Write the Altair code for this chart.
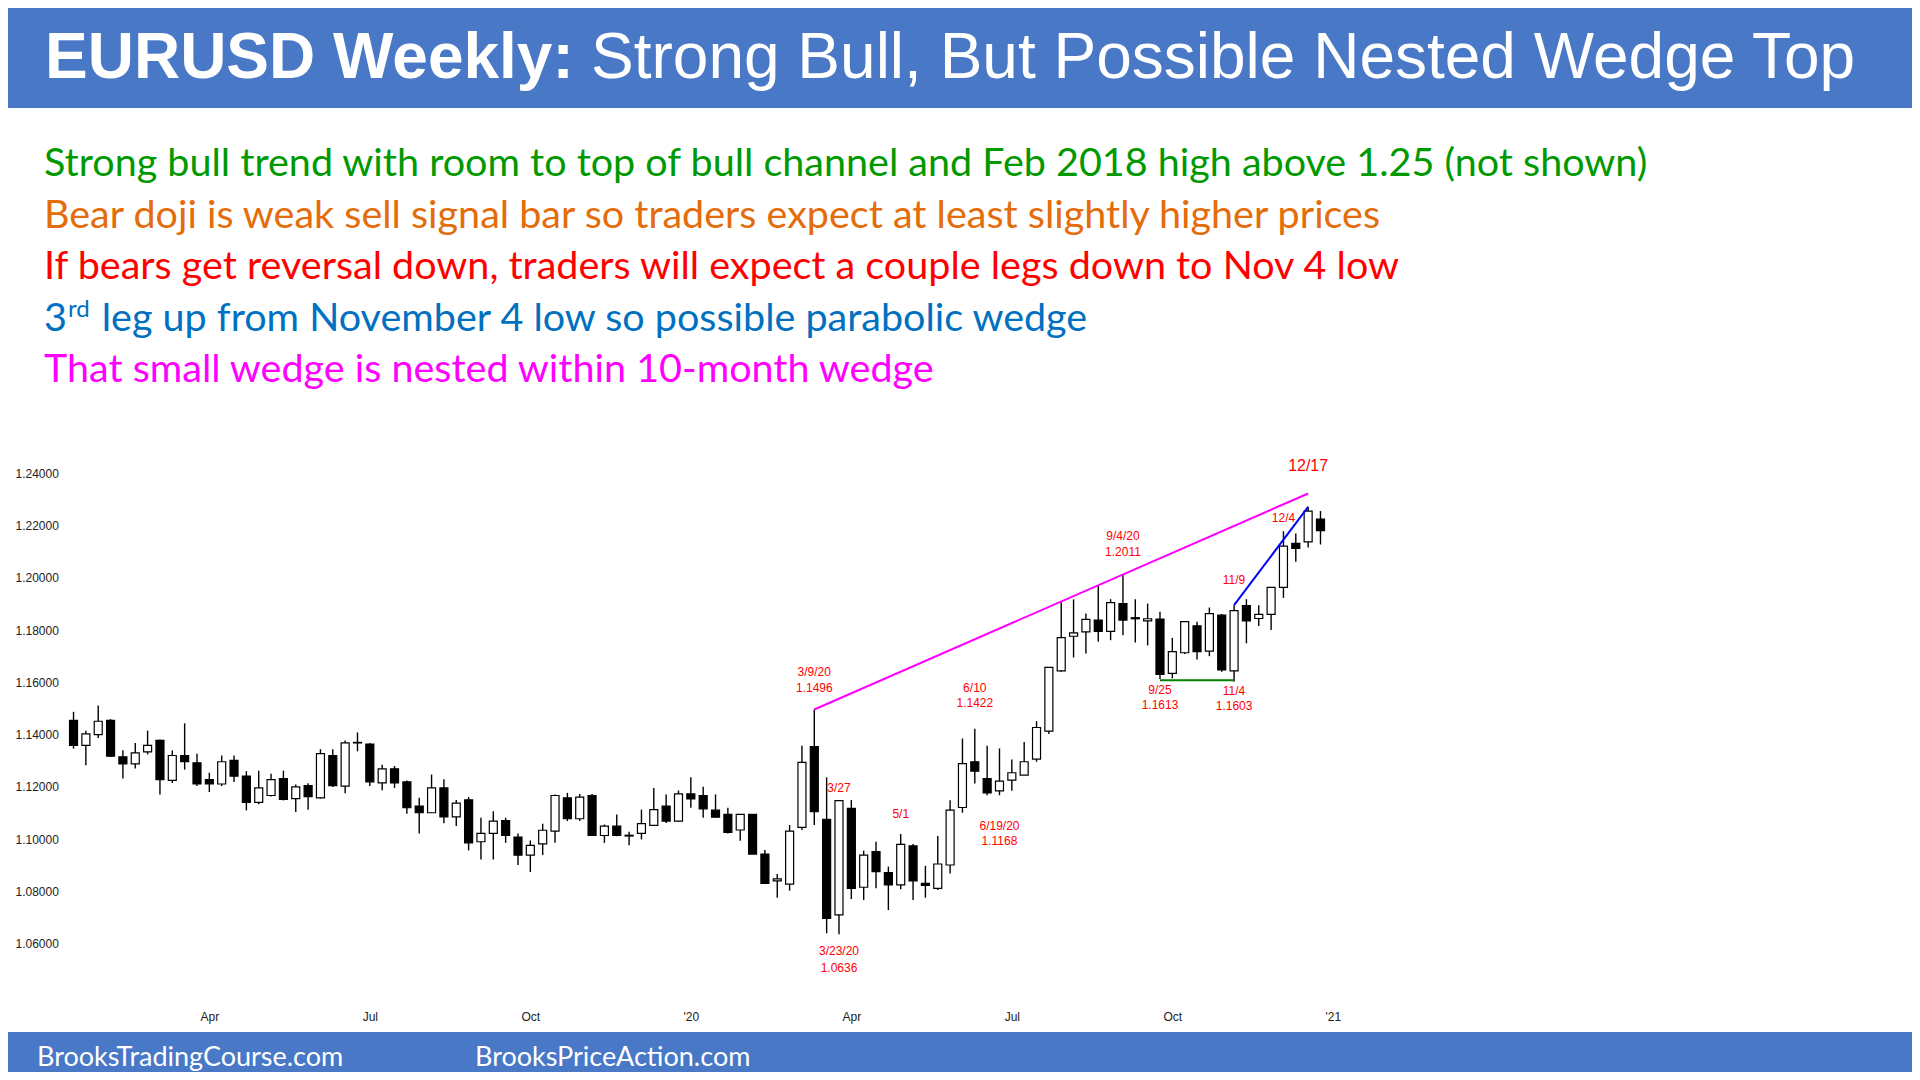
import json
import pandas as pd
import altair as alt

# Weekly EURUSD candles, first week starting Monday 2019-01-14
first_week = "2019-01-14"
opens = [1.1454, 1.1359, 1.1400, 1.1454, 1.1315, 1.1288, 1.1334, 1.1378, 1.1225, 1.1320,
         1.1292, 1.1228, 1.1211, 1.1301, 1.1241, 1.1141, 1.1167, 1.1232, 1.1155, 1.1205,
         1.1158, 1.1320, 1.1203, 1.1368, 1.1364, 1.1215, 1.1269, 1.1219, 1.1126, 1.1101,
         1.1196, 1.1085, 1.1150, 1.0990, 1.1022, 1.1071, 1.1008, 1.0939, 1.0982, 1.1031,
         1.1158, 1.1078, 1.1167, 1.1014, 1.1050, 1.1012, 1.1022, 1.1053, 1.1126, 1.1069,
         1.1173, 1.1167, 1.1111, 1.1095, 1.1035, 1.1095, 1.0943, 1.0840, 1.0828, 1.1045,
         1.1354, 1.1076, 1.0710, 1.1118, 1.0816, 1.0952, 1.0872, 1.0825, 1.0974, 1.0831,
         1.0812, 1.0901, 1.1121, 1.1296, 1.1232, 1.1185, 1.1226, 1.1245, 1.1306, 1.1413,
         1.1644, 1.1776, 1.1793, 1.1838, 1.1795, 1.1901, 1.1847, 1.1835, 1.1842, 1.1634,
         1.1713, 1.1816, 1.1719, 1.1857, 1.1644, 1.1893, 1.1844, 1.1860, 1.1963, 1.2131,
         1.2137, 1.2224]
highs = [1.1487, 1.1415, 1.1511, 1.1459, 1.1340, 1.1368, 1.1415, 1.1381, 1.1339, 1.1443,
         1.1327, 1.1254, 1.1320, 1.1320, 1.1260, 1.1262, 1.1250, 1.1262, 1.1209, 1.1214,
         1.1344, 1.1344, 1.1377, 1.1408, 1.1368, 1.1285, 1.1280, 1.1224, 1.1158, 1.1247,
         1.1229, 1.1150, 1.1161, 1.1082, 1.1107, 1.1082, 1.1022, 1.0995, 1.1059, 1.1171,
         1.1177, 1.1173, 1.1173, 1.1056, 1.1094, 1.1028, 1.1113, 1.1196, 1.1171, 1.1186,
         1.1237, 1.1200, 1.1171, 1.1120, 1.1095, 1.1095, 1.0958, 1.0867, 1.1054, 1.1357,
         1.1496, 1.1236, 1.1147, 1.1150, 1.0956, 1.0990, 1.0895, 1.1020, 1.0981, 1.0898,
         1.1012, 1.1149, 1.1385, 1.1422, 1.1357, 1.1347, 1.1305, 1.1372, 1.1451, 1.1657,
         1.1908, 1.1917, 1.1863, 1.1971, 1.1918, 1.2011, 1.1918, 1.1901, 1.1870, 1.1770,
         1.1832, 1.1832, 1.1886, 1.1861, 1.1895, 1.1918, 1.1895, 1.1963, 1.2178, 1.2169,
         1.2271, 1.2255]
lows = [1.1346, 1.1283, 1.1387, 1.1315, 1.1232, 1.1270, 1.1324, 1.1171, 1.1215, 1.1266,
        1.1203, 1.1180, 1.1203, 1.1219, 1.1110, 1.1133, 1.1163, 1.1148, 1.1104, 1.1112,
        1.1155, 1.1199, 1.1176, 1.1336, 1.1203, 1.1187, 1.1196, 1.1097, 1.1022, 1.1101,
        1.1061, 1.1050, 1.0957, 1.0922, 1.0922, 1.0986, 1.0901, 1.0874, 1.0939, 1.0986,
        1.1069, 1.1069, 1.1014, 1.0986, 1.1011, 1.0977, 1.0999, 1.1051, 1.1062, 1.1066,
        1.1120, 1.1082, 1.1082, 1.1022, 1.0994, 1.0943, 1.0831, 1.0776, 1.0803, 1.1035,
        1.1054, 1.0640, 1.0636, 1.0771, 1.0767, 1.0812, 1.0729, 1.0808, 1.0767, 1.0776,
        1.0805, 1.0869, 1.1101, 1.1213, 1.1168, 1.1168, 1.1185, 1.1245, 1.1296, 1.1402,
        1.1640, 1.1695, 1.1710, 1.1755, 1.1761, 1.1780, 1.1752, 1.1741, 1.1613, 1.1615,
        1.1708, 1.1687, 1.1700, 1.1640, 1.1603, 1.1749, 1.1815, 1.1800, 1.1923, 1.2061,
        1.2116, 1.2127]
closes = [1.1359, 1.1403, 1.1451, 1.1317, 1.1288, 1.1330, 1.1359, 1.1228, 1.1320, 1.1296,
          1.1211, 1.1211, 1.1296, 1.1241, 1.1141, 1.1196, 1.1228, 1.1152, 1.1200, 1.1163,
          1.1327, 1.1205, 1.1368, 1.1370, 1.1219, 1.1269, 1.1215, 1.1120, 1.1101, 1.1196,
          1.1085, 1.1138, 1.0986, 1.1022, 1.1069, 1.1014, 1.0939, 1.0976, 1.1034, 1.1167,
          1.1078, 1.1161, 1.1014, 1.1050, 1.1014, 1.1015, 1.1059, 1.1113, 1.1069, 1.1173,
          1.1154, 1.1116, 1.1084, 1.1026, 1.1095, 1.0943, 1.0831, 1.0848, 1.1031, 1.1294,
          1.1105, 1.0697, 1.1147, 1.0812, 1.0939, 1.0876, 1.0825, 1.0980, 1.0840, 1.0823,
          1.0905, 1.1111, 1.1289, 1.1260, 1.1177, 1.1222, 1.1254, 1.1296, 1.1427, 1.1657,
          1.1771, 1.1789, 1.1841, 1.1795, 1.1905, 1.1838, 1.1843, 1.1843, 1.1630, 1.1717,
          1.1832, 1.1717, 1.1863, 1.1647, 1.1874, 1.1835, 1.1860, 1.1963, 1.2121, 1.2112,
          1.2255, 1.2180]

# x axis: labelled at the week that holds the first day of each quarter
tick_dates = ["2019-04-01", "2019-07-01", "2019-09-30", "2019-12-30",
              "2020-03-30", "2020-06-29", "2020-09-28", "2020-12-28"]
tick_labels = ["Apr", "Jul", "Oct", "'20", "Apr", "Jul", "Oct", "'21"]
y_ticks = [1.06, 1.08, 1.10, 1.12, 1.14, 1.16, 1.18, 1.20, 1.22, 1.24]

# drawn trend lines
wedge_dates = ["2020-03-09", "2020-12-14"]
wedge_prices = [1.1496, 1.2322]
leg_dates = ["2020-11-02", "2020-12-14"]
leg_prices = [1.1895, 1.2271]
base_dates = ["2020-09-21", "2020-11-02"]
base_prices = [1.1608, 1.1608]

# red swing labels
label_texts = ["3/9/20", "1.1496", "3/27", "3/23/20", "1.0636", "5/1", "6/10", "1.1422",
               "6/19/20", "1.1168", "9/4/20", "1.2011", "9/25", "1.1613", "11/4", "1.1603",
               "11/9", "12/4", "12/17"]
label_dates = ["2020-03-09", "2020-03-09", "2020-03-23", "2020-03-23", "2020-03-23",
               "2020-04-27", "2020-06-08", "2020-06-08", "2020-06-22", "2020-06-22",
               "2020-08-31", "2020-08-31", "2020-09-21", "2020-09-21", "2020-11-02",
               "2020-11-02", "2020-11-02", "2020-11-30", "2020-12-14"]
label_prices = [1.1496, 1.1496, 1.1147, 1.0636, 1.0636, 1.1020, 1.1422, 1.1422,
                1.1168, 1.1168, 1.2011, 1.2011, 1.1613, 1.1613, 1.1603, 1.1603,
                1.1895, 1.2178, 1.2271]
label_dy = [-33, -17, -9, 21, 38, -16, -37, -22, 35, 50, -35, -19, 15, 30, 13, 28, -21, -9, -36]
label_size = [12] * 18 + [16]

title_bold = "EURUSD Weekly:"
title_rest = "Strong Bull, But Possible Nested Wedge Top"
notes = [
    "Strong bull trend with room to top of bull channel and Feb 2018 high above 1.25 (not shown)",
    "Bear doji is weak sell signal bar so traders expect at least slightly higher prices",
    "If bears get reversal down, traders will expect a couple legs down to Nov 4 low",
    None,
    "That small wedge is nested within 10-month wedge",
]
note_colors = ["#009900", "#E46C0A", "#FF0000", "#0070C0", "#FF00FF"]
footer_texts = ["BrooksTradingCourse.com", "BrooksPriceAction.com"]

# ---- layout (pixels, relative to the plot area) ----
W, H = 1294, 549
PAD = {"left": 57, "top": 439, "right": 553, "bottom": 76}
BAND = "#4878C6"
SANS = "Liberation Sans"
BODY_FONT = "Lato"
NOTE_SIZE = 39.5

candles = pd.DataFrame({
    "date": pd.date_range(first_week, periods=len(opens), freq="7D").strftime("%Y-%m-%d"),
    "open": opens, "high": highs, "low": lows, "close": closes,
})
candles["dir"] = ["down" if c < o else "up" for o, c in zip(opens, closes)]

def ms(d):
    return int(pd.Timestamp(d).value // 10**6)

tick_ms = [ms(d) for d in tick_dates]
x_scale = alt.Scale(type="utc", domain=[ms("2019-01-12"), ms("2021-01-09")])
y_scale = alt.Scale(domain=[1.04, 1.25], zero=False, nice=False)

x_axis = alt.Axis(
    values=tick_ms,
    labelExpr=f"{json.dumps(tick_labels)}[indexof({json.dumps(tick_ms)}, time(datum.value))]",
    grid=False, domain=False, ticks=False, title=None,
    labelFont=SANS, labelFontSize=12, labelColor="#222222", labelPadding=15,
)
y_axis = alt.Axis(
    values=y_ticks, format=".5f", grid=False, domain=False, ticks=False, title=None,
    labelFont=SANS, labelFontSize=12, labelColor="#222222", labelAlign="left", labelPadding=50,
)

one = pd.DataFrame({"k": [0]})

def band(y0, y1):
    return alt.Chart(one).mark_rect(color=BAND).encode(
        x=alt.value(-PAD["left"]), x2=alt.value(W + PAD["right"]),
        y=alt.value(y0), y2=alt.value(y1))

def text(s, x, y, size, color, font=BODY_FONT, weight="normal"):
    return alt.Chart(one).mark_text(
        align="left", baseline="alphabetic", font=font, fontSize=size,
        fontWeight=weight, color=color,
    ).encode(x=alt.value(x), y=alt.value(y), text=alt.value(s))

layers = [
    band(-439, -339),
    band(585, 625),
    text(title_bold, -20, -369, 64, "white", SANS, "bold"),
    text(title_rest, 526, -369, 64, "white", SANS),
]

note_y = [-271, -219.5, -168, -116, -65]
for s, c, y in zip(notes, note_colors, note_y):
    if s is not None:
        layers.append(text(s, -21, y, NOTE_SIZE, c))
layers += [
    text("3", -21, -116, NOTE_SIZE, note_colors[3]),
    text("rd", 3, -130, 24, note_colors[3]),
    text("leg up from November 4 low so possible parabolic wedge", 36.7, -116, NOTE_SIZE, note_colors[3]),
    text(footer_texts[0], -28, 619, 27, "white"),
    text(footer_texts[1], 410, 619, 27, "white"),
]

x_enc = alt.X("date:T", scale=x_scale, axis=x_axis)

wicks = alt.Chart(candles).mark_rule(color="black", strokeWidth=1.4).encode(
    x=x_enc, y=alt.Y("low:Q", scale=y_scale, axis=y_axis), y2="high:Q")
bodies = alt.Chart(candles).mark_bar(size=8, stroke="black", strokeWidth=1.2).encode(
    x=alt.X("date:T", scale=x_scale), y=alt.Y("open:Q", scale=y_scale), y2="close:Q",
    fill=alt.Fill("dir:N", scale=alt.Scale(domain=["up", "down"], range=["white", "black"]), legend=None),
)
layers += [wicks, bodies]

for ds, ps, col in [(wedge_dates, wedge_prices, "#FF00FF"),
                    (leg_dates, leg_prices, "#0000FF"),
                    (base_dates, base_prices, "#008000")]:
    seg = pd.DataFrame({"date": ds, "price": ps})
    layers.append(alt.Chart(seg).mark_line(color=col, strokeWidth=2).encode(
        x=alt.X("date:T", scale=x_scale), y=alt.Y("price:Q", scale=y_scale)))

for t, d, p, dy, sz in zip(label_texts, label_dates, label_prices, label_dy, label_size):
    lab = pd.DataFrame({"date": [d], "price": [p], "text": [t]})
    layers.append(alt.Chart(lab).mark_text(
        align="center", baseline="alphabetic", dy=dy, font=SANS, fontSize=sz, color="#FF0000",
    ).encode(x=alt.X("date:T", scale=x_scale), y=alt.Y("price:Q", scale=y_scale), text="text:N"))

chart = alt.layer(*layers).properties(
    width=W, height=H, padding=PAD, background="white",
    autosize=alt.AutoSizeParams(type="none"),
).configure_view(strokeWidth=0)

chart.save("out.html", embed_options={"renderer": "svg", "actions": False})
